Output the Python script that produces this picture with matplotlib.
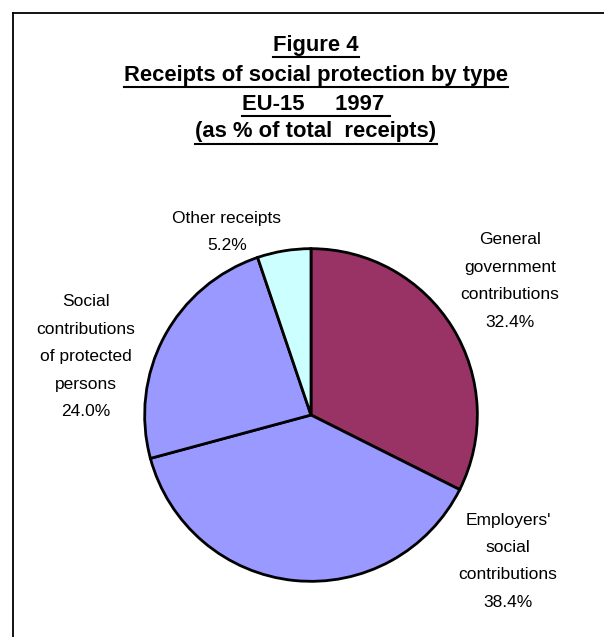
import matplotlib
matplotlib.use("Agg")
import matplotlib.pyplot as plt
from matplotlib.lines import Line2D

# data
categories = [
    ["General", "government", "contributions"],
    ["Employers'", "social", "contributions"],
    ["Social", "contributions", "of protected", "persons"],
    ["Other receipts"],
]
shares = [32.4, 38.4, 24.0, 5.2]
colors = ["#993366", "#9999FF", "#9999FF", "#CCFFFF"]

title_lines = [
    "Figure 4",
    "Receipts of social protection by type",
    "EU-15     1997 ",
    "(as % of total  receipts)",
]

W, H = 604, 637
fig = plt.figure(figsize=(W / 100, H / 100), dpi=100)
plt.rcParams["font.family"] = ["Liberation Sans", "DejaVu Sans"]

# pie placed by pixel geometry
cx, cy, r = 311, 415, 168
ax = fig.add_axes([(cx - r) / W, (H - cy - r) / H, 2 * r / W, 2 * r / H])
ax.pie(
    shares,
    colors=colors,
    startangle=90,
    counterclock=False,
    radius=1.0,
    wedgeprops=dict(edgecolor="black", linewidth=2.0),
)
ax.set_xlim(-1.01, 1.01)
ax.set_ylim(-1.01, 1.01)
ax.set_aspect("equal")
ax.axis("off")

# label positions (pixels: x center, y of first line), line step in px
label_pos = [(510, 240), (508, 520), (86, 302), (227, 218)]
step = 27.4
for lines, val, (lx, ly) in zip(categories, shares, label_pos):
    for i, s in enumerate(lines + [f"{val:.1f}%"]):
        fig.text(lx / W, 1 - (ly + i * step) / H, s, ha="center", va="center",
                 fontsize=12.5, color="black")

# title, bold and underlined
title_y = [45, 75, 104, 132]
fig.canvas.draw()
renderer = fig.canvas.get_renderer()
for line, ty in zip(title_lines, title_y):
    t = fig.text(316 / W, 1 - ty / H, line, ha="center", va="center",
                 fontsize=15.8, fontweight="bold", color="black")
    bb = t.get_window_extent(renderer=renderer)
    uy = bb.y0 - 1
    fig.add_artist(Line2D([bb.x0 / W, bb.x1 / W], [uy / H, uy / H],
                          color="black", lw=1.5, transform=fig.transFigure))

# frame (left and top only)
fig.add_artist(Line2D([12.5 / W, 12.5 / W], [0, 1 - 12.5 / H],
                      color="black", lw=1.3, transform=fig.transFigure))
fig.add_artist(Line2D([12.5 / W, 1], [1 - 12.5 / H, 1 - 12.5 / H],
                      color="black", lw=1.3, transform=fig.transFigure))

fig.savefig("out.png", dpi=100)
